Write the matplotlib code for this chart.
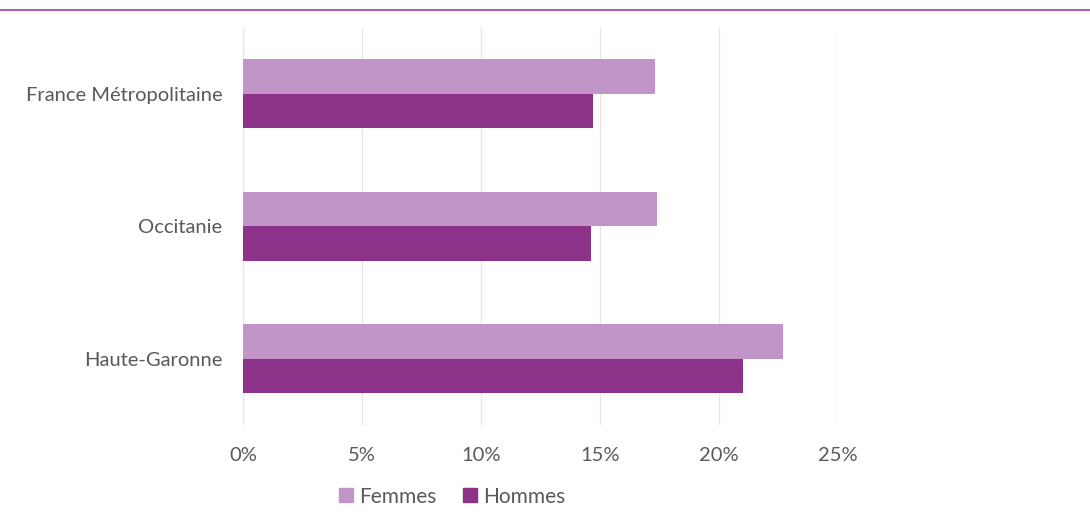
import numpy as np
import matplotlib.pyplot as plt
from matplotlib.patches import Patch
from matplotlib.lines import Line2D

# Data
categories = ["France Métropolitaine", "Occitanie", "Haute-Garonne"]
femmes = [17.3, 17.4, 22.7]
hommes = [14.7, 14.6, 21.0]
x_ticks = [0, 5, 10, 15, 20, 25]
x_ticklabels = ["0%", "5%", "10%", "15%", "20%", "25%"]

col_f = "#C295C8"
col_h = "#8C3389"
txt = "#595959"

plt.rcParams['font.family'] = ['Lato', 'DejaVu Sans']

fig = plt.figure(figsize=(10.9, 5.12), dpi=100)
ax = fig.add_axes([0.2229, 0.170, 0.546, 0.776])

y = np.arange(len(categories))
h = 0.26
ax.barh(y - h / 2, femmes, height=h, color=col_f, label="Femmes")
ax.barh(y + h / 2, hommes, height=h, color=col_h, label="Hommes")

ax.set_ylim(2.5, -0.5)
ax.set_xlim(0, 25)
ax.set_yticks(y)
ax.set_yticklabels(categories, fontsize=14.5, color=txt)
ax.set_xticks(x_ticks)
ax.set_xticklabels(x_ticklabels, fontsize=14.5, color=txt)
ax.tick_params(axis='both', length=0)
ax.tick_params(axis='x', pad=16)
ax.tick_params(axis='y', pad=15)
ax.grid(axis='x', color="#E6E6E6", linewidth=1)
ax.set_axisbelow(True)
for s in ax.spines.values():
    s.set_visible(False)

# Legend
handles = [Patch(color=col_f), Patch(color=col_h)]
fig.legend(handles, ["Femmes", "Hommes"], loc='center', bbox_to_anchor=(0.415, 0.03),
           ncol=2, frameon=False, fontsize=15, labelcolor=txt,
           handlelength=0.65, handleheight=0.65, handletextpad=0.3, columnspacing=1.3)

# Top border line
fig.add_artist(Line2D([0, 1], [0.981, 0.981], transform=fig.transFigure, color="#A040A0", linewidth=1.2))

fig.savefig("out.png", dpi=100)
